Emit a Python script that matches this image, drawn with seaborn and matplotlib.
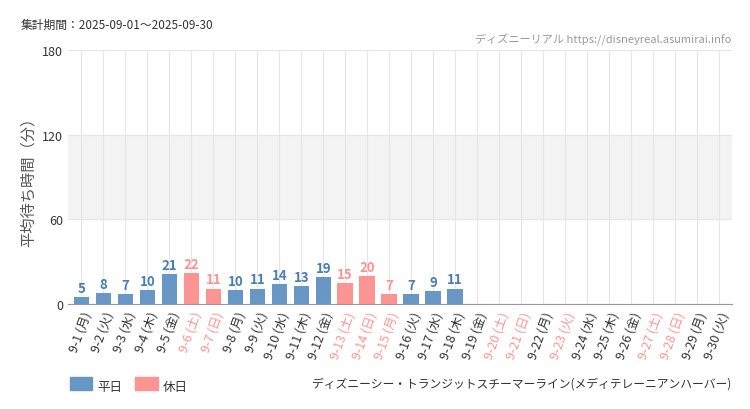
import matplotlib
matplotlib.use("Agg")
import matplotlib.pyplot as plt
import seaborn as sns
import pandas as pd
import numpy as np

plt.rcParams['font.family'] = 'Noto Sans CJK JP'

# data
days = [f"9-{d}" for d in range(1, 31)]
weekdays = ['月', '火', '水', '木', '金', '土', '日'] * 5
weekdays = weekdays[:30]
waits = [5, 8, 7, 10, 21, 22, 11, 10, 11, 14, 13, 19, 15, 20, 7, 7, 9, 11] + [np.nan] * 12
holidays = [6, 7, 13, 14, 15, 20, 21, 23, 27, 28]

labels = [f"{d} ({w})" for d, w in zip(days, weekdays)]
kind = ['休日' if i + 1 in holidays else '平日' for i in range(30)]
df = pd.DataFrame({'day': labels, 'wait': waits, 'kind': kind})

blue = '#6897c6'
red = '#fd9494'

fig = plt.figure(figsize=(7.5, 4.1), dpi=100)
ax = fig.add_axes([0.091, 0.256, 0.885, 0.62])
ax.axhspan(60, 120, color='#f3f3f3', zorder=0)
sns.barplot(data=df, x='day', y='wait', hue='kind', hue_order=['平日', '休日'],
            palette={'平日': blue, '休日': red}, dodge=False, width=0.7,
            saturation=1, legend=False, ax=ax, zorder=2)

for i, (v, k) in enumerate(zip(waits, kind)):
    if not np.isnan(v):
        ax.text(i, v + 1.5, f"{int(v)}", ha='center', va='bottom', fontsize=9.5,
                fontweight='bold', color=red if k == '休日' else '#4a7db3')

ax.set_ylim(0, 180)
ax.set_xlim(-0.6, 29.6)
ax.set_yticks([0, 60, 120, 180])
ax.tick_params(axis='y', labelsize=9, colors='#333333', length=0)
ax.set_xlabel('')
ax.set_ylabel('平均待ち時間（分）', fontsize=11, color='#555555')
ax.set_xticks(range(30))
ax.set_xticklabels(labels, rotation=70, ha='right', rotation_mode='anchor', fontsize=9)
for t, k in zip(ax.get_xticklabels(), kind):
    t.set_color(red if k == '休日' else '#333333')
ax.tick_params(axis='x', length=0, pad=4)
ax.grid(axis='both', color='#e6e6e6', linewidth=0.8, zorder=0)
ax.set_axisbelow(True)
for s in ['top', 'right', 'left']:
    ax.spines[s].set_visible(False)
ax.spines['bottom'].set_color('#999999')

fig.text(0.027, 0.93, '集計期間：2025-09-01～2025-09-30', fontsize=8.5, color='#333333')
fig.text(0.975, 0.893, 'ディズニーリアル https://disneyreal.asumirai.info', fontsize=8,
         color='#999999', ha='right')
fig.text(0.975, 0.055, 'ディズニーシー・トランジットスチーマーライン(メディテレーニアンハーバー)',
         fontsize=8.5, color='#333333', ha='right')

fig.patches.append(plt.Rectangle((0.093, 0.047), 0.03, 0.03, color=blue, transform=fig.transFigure, figure=fig))
fig.text(0.13, 0.047, '平日', fontsize=9, color='#333333')
fig.patches.append(plt.Rectangle((0.18, 0.047), 0.03, 0.03, color=red, transform=fig.transFigure, figure=fig))
fig.text(0.217, 0.047, '休日', fontsize=9, color='#333333')

fig.savefig('out.png', dpi=100)
